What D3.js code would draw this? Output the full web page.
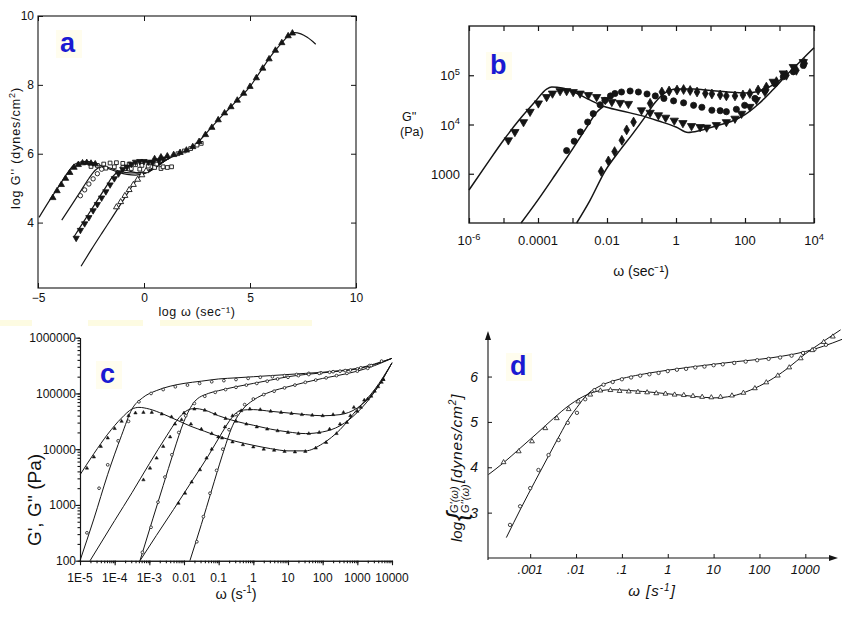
<!DOCTYPE html>
<html>
<head>
<meta charset="utf-8">
<script src="https://cdn.jsdelivr.net/npm/d3@7/dist/d3.min.js"></script>
<style>
  html,body{margin:0;padding:0;background:#fff;}
  svg{display:block;}
  text{font-family:"Liberation Sans",Arial,sans-serif;fill:#111;}
</style>
</head>
<body>
<svg id="fig" width="844" height="626"></svg>
<script>
// ================= DATA =================
// ---- Panel a: log(omega) vs log(G'') ----
const aTicksX = [-5, 0, 5, 10];
const aTicksY = [4, 6, 8, 10];
const aLine1 = [[-4.95,4.15],[-4.5,4.6],[-4,5.07],[-3.6,5.45],[-3.3,5.68],[-3,5.76],[-2.7,5.78],[-2.4,5.74],[-2.0,5.65],[-1.6,5.55],[-1.2,5.46],[-0.8,5.4],[-0.4,5.38],[0,5.42],[0.4,5.55],[0.8,5.72],[1.2,5.87],[1.6,5.98],[2.0,6.1],[2.4,6.25],[2.8,6.5],[3.2,6.78],[3.6,7.05],[4.0,7.3],[4.5,7.62],[5.0,7.95],[5.5,8.4],[6.0,8.85],[6.5,9.22],[6.8,9.42],[7.1,9.52],[7.4,9.48],[7.7,9.38],[8.1,9.18]];
const aLine2 = [[-3.88,4.07],[-3.4,4.52],[-3,4.9],[-2.6,5.28],[-2.3,5.52],[-2.0,5.62],[-1.7,5.6],[-1.3,5.52],[-0.9,5.46],[-0.5,5.44],[-0.1,5.46],[0.3,5.55],[0.7,5.7],[1.0,5.82],[1.2,5.87]];
const aLine3 = [[-3.3,3.59],[-2.8,4.07],[-2.3,4.55],[-1.8,5.03],[-1.5,5.32],[-1.2,5.48],[-0.9,5.52],[-0.6,5.48],[-0.2,5.44],[0.2,5.48],[0.6,5.62],[1.0,5.8],[1.2,5.87]];
const aLine4 = [[-2.97,2.73],[-2.5,3.2],[-2,3.68],[-1.5,4.15],[-1,4.63],[-0.6,5.02],[-0.3,5.28],[0,5.42],[0.3,5.5],[0.6,5.62],[1.0,5.8],[1.2,5.87]];
const aTriUpLow = [[-4.3,4.72],[-4.1,4.92],[-3.9,5.1],[-3.7,5.28],[-3.5,5.45],[-3.3,5.6],[-3.1,5.68],[-2.9,5.73],[-2.7,5.74],[-2.5,5.72],[-2.3,5.7]];
const aTriUpMaster = [[0.5,5.85],[0.8,5.9],[1.1,5.93],[1.4,5.97],[1.7,6.03],[2.0,6.1],[2.3,6.2],[2.6,6.35],[2.9,6.55],[3.2,6.76],[3.5,6.98],[3.8,7.18],[4.1,7.36],[4.4,7.55],[4.7,7.75],[5.0,7.95],[5.3,8.2],[5.6,8.48],[5.9,8.75],[6.2,9.0],[6.5,9.22],[6.8,9.42],[7.0,9.5]];
const aCircOpen = [[-3.0,4.78],[-2.8,4.95],[-2.6,5.12],[-2.4,5.27],[-2.2,5.42],[-2.0,5.55]];
const aTriFilled3 = [[-3.2,3.55],[-3.0,3.78],[-2.8,3.97],[-2.6,4.15],[-2.4,4.35],[-2.2,4.53],[-2.0,4.72],[-1.8,4.9],[-1.6,5.1],[-1.4,5.28],[-1.2,5.42],[-1.0,5.55],[-0.8,5.62],[-0.6,5.7],[-0.4,5.76],[-0.2,5.78],[0.0,5.78],[0.2,5.76],[0.4,5.74],[0.7,5.8],[0.9,5.85]];
const aOpenTri4 = [[-1.3,4.45],[-1.1,4.6],[-0.9,4.78],[-0.7,4.95],[-0.5,5.1],[-0.3,5.25],[-0.1,5.38],[0.1,5.5]];
const aSquares = [[-2.5,5.63],[-2.2,5.66],[-1.9,5.7],[-1.6,5.73],[-1.3,5.74],[-1.0,5.72],[-0.7,5.7],[-0.4,5.68],[-0.1,5.66],[0.2,5.64],[0.5,5.6],[0.8,5.57],[1.1,5.6],[-1.8,5.58],[-1.4,5.62],[-1.0,5.6],[-0.6,5.57],[-0.2,5.55],[0.3,5.75],[0.6,5.7],[0.9,5.62],[1.3,5.62],[1.6,6.0],[1.9,6.08],[2.2,6.15],[2.5,6.25],[2.7,6.3]];

// ---- Panel b: omega vs G'' (values as log10) ----
const bTicksX = [-6,-5,-4,-3,-2,-1,0,1,2,3,4];
const bLabelX = [-6,-4,-2,0,2,4];
const bLabelXText = [["10","-6"],["0.0001",""],["0.01",""],["1",""],["100",""],["10","4"]];
const bTicksY = [3,4,5];
const bLabelYText = [["1000",""],["10","4"],["10","5"]];
const bLine1 = [[-6,2.67],[-5.5,3.18],[-5,3.68],[-4.5,4.13],[-4.1,4.45],[-3.75,4.72],[-3.6,4.76],[-3.3,4.74],[-2.9,4.64],[-2.5,4.5],[-2.1,4.37],[-1.6,4.28],[-1.0,4.18],[-0.5,4.07],[0,3.95],[0.35,3.84],[0.7,3.88],[1.2,3.98],[1.6,4.06],[2.0,4.2],[2.4,4.42],[2.8,4.7],[3.2,5.0],[3.6,5.28],[4,5.56]];
const bLine2 = [[-4.49,2.0],[-4,2.47],[-3.5,2.98],[-3,3.5],[-2.6,3.93],[-2.3,4.25],[-2.1,4.37]];
const bLine3 = [[-2.88,2.0],[-2.5,2.45],[-2.06,3.05],[-1.6,3.5],[-1.29,3.78],[-0.9,4.15],[-0.6,4.45],[-0.3,4.65],[0,4.72],[0.5,4.72],[1.0,4.69],[1.5,4.66],[2.0,4.64],[2.4,4.67],[2.8,4.8],[3.2,5.0]];
const bTriDown = [[-4.86,3.68],[-4.67,3.85],[-4.42,4.05],[-4.23,4.26],[-3.99,4.43],[-3.75,4.56],[-3.58,4.63],[-3.36,4.68],[-3.17,4.68],[-2.98,4.66],[-2.78,4.63],[-2.54,4.6],[-2.3,4.56],[-2.05,4.5],[-1.86,4.46],[-1.62,4.44],[-1.38,4.42],[-1.0,4.29],[-0.75,4.24],[-0.51,4.19],[-0.3,4.14],[-0.05,4.08],[0.2,4.03],[0.45,3.97],[0.7,3.95],[0.89,3.94],[1.17,3.99],[1.46,4.05],[1.71,4.12],[1.9,4.22],[2.14,4.36],[2.33,4.5],[2.58,4.66],[2.82,4.87],[3.11,5.04],[3.4,5.17],[3.69,5.27]];
const bCirc = [[-3.17,3.47],[-2.95,3.66],[-2.77,3.85],[-2.56,4.05],[-2.4,4.22],[-2.2,4.4],[-2.06,4.49],[-1.9,4.58],[-1.77,4.63],[-1.58,4.66],[-1.33,4.68],[-1.09,4.66],[-0.84,4.62],[-0.6,4.58],[-0.35,4.53],[-0.07,4.48],[0.22,4.44],[0.51,4.39],[0.75,4.35],[1.04,4.29],[1.28,4.28],[1.46,4.26],[1.75,4.31],[1.99,4.39],[2.29,4.53],[2.58,4.69],[2.87,4.83],[3.11,4.97],[3.4,5.07],[3.69,5.2]];
const bDiam = [[-2.17,3.05],[-1.96,3.26],[-1.78,3.45],[-1.57,3.68],[-1.43,3.89],[-1.23,4.05],[-0.75,4.43],[-0.41,4.66],[-0.2,4.68],[0.03,4.7],[0.22,4.71],[0.41,4.69],[0.61,4.66],[0.85,4.63],[1.04,4.62],[1.28,4.6],[1.46,4.58],[1.71,4.58],[1.94,4.6],[2.14,4.63],[2.38,4.7],[2.62,4.76],[2.91,4.87],[3.2,5.0],[3.49,5.1],[3.73,5.24]];

// ---- Panel c: omega vs G', G'' (values as log10) ----
const cTicksX = [-5,-4,-3,-2,-1,0,1,2,3,4];
const cLabelXText = ["1E-5","1E-4","1E-3","0.01","0.1","1","10","100","1000","10000"];
const cTicksY = [2,3,4,5,6];
const cLabelYText = ["100","1000","10000","100000","1000000"];
const cGp1 = [[-5,2.0],[-4.6,2.75],[-4.2,3.55],[-3.8,4.25],[-3.5,4.72],[-3.2,4.92],[-2.8,5.05],[-2.4,5.13],[-2,5.18],[-1.5,5.22],[-1,5.26],[-0.5,5.28],[0,5.3],[0.5,5.32],[1,5.34],[1.5,5.36],[2,5.38],[2.5,5.41],[3,5.45],[3.5,5.53],[4,5.63]];
const cGpp1 = [[-5,3.54],[-4.6,3.92],[-4.2,4.27],[-3.8,4.56],[-3.5,4.72],[-3.3,4.75],[-3.0,4.72],[-2.6,4.63],[-2.2,4.52],[-1.8,4.41],[-1.4,4.32],[-1,4.23],[-0.5,4.14],[0,4.07],[0.5,4.01],[1,3.97],[1.5,3.97],[2,4.1],[2.5,4.35],[3,4.72],[3.5,5.07],[4,5.55]];
const cGp2 = [[-3.27,2.0],[-2.9,2.75],[-2.6,3.35],[-2.3,3.95],[-2,4.5],[-1.7,4.85],[-1.3,5.0],[-1,5.05],[-0.5,5.12],[0,5.18],[0.5,5.24],[1,5.3],[1.5,5.34],[2,5.37],[2.5,5.4],[3,5.44],[3.5,5.52],[4,5.63]];
const cGpp2 = [[-4.71,2.0],[-4,2.72],[-3.5,3.22],[-3,3.74],[-2.5,4.24],[-2.2,4.52],[-1.95,4.68],[-1.7,4.73],[-1.4,4.7],[-1,4.6],[-0.5,4.5],[0,4.43],[0.5,4.36],[1,4.31],[1.5,4.28],[2,4.31],[2.5,4.42],[3,4.66],[3.5,5.03],[4,5.55]];
const cGp3 = [[-1.83,2.0],[-1.5,2.65],[-1.2,3.27],[-0.9,3.88],[-0.6,4.42],[-0.3,4.72],[0,4.88],[0.5,5.03],[1,5.12],[1.5,5.2],[2,5.27],[2.5,5.33],[3,5.4],[3.5,5.5],[4,5.63]];
const cGpp3 = [[-3.27,2.0],[-2.8,2.45],[-2.3,2.92],[-1.8,3.4],[-1.3,3.88],[-0.9,4.3],[-0.6,4.58],[-0.35,4.7],[0,4.71],[0.5,4.68],[1,4.65],[1.5,4.62],[2,4.6],[2.5,4.62],[3,4.74],[3.5,5.04],[4,5.55]];
const cMkGp1 = [[-4.8,2.5],[-4.45,3.3],[-4.2,3.72],[-3.9,4.15],[-3.6,4.5],[-3.3,4.85],[-2.95,5.0],[-2.6,5.07],[-2.25,5.12],[-1.9,5.15],[-1.55,5.18],[-1.2,5.21],[-0.85,5.23],[-0.5,5.25],[-0.15,5.27],[0.2,5.29],[0.55,5.3],[0.9,5.32],[1.25,5.34],[1.6,5.36],[1.95,5.37],[2.3,5.39],[2.65,5.41],[3.0,5.44],[3.35,5.5],[3.7,5.58]];
const cMkGpp1 = [[-4.8,3.66],[-4.6,3.86],[-4.4,4.05],[-4.2,4.2],[-4.0,4.37],[-3.8,4.5],[-3.6,4.6],[-3.4,4.65],[-3.17,4.66],[-2.93,4.66],[-2.64,4.63],[-2.36,4.58],[-2.07,4.53],[-1.8,4.45],[-1.5,4.36],[-1.2,4.28],[-0.9,4.2],[-0.6,4.13],[-0.3,4.08],[0,4.04],[0.3,4.0],[0.6,3.98],[0.9,3.96],[1.2,3.95],[1.5,3.96],[1.8,4.02],[2.1,4.12],[2.4,4.28],[2.7,4.48],[3.0,4.68],[3.3,4.9],[3.6,5.12],[3.75,5.25]];
const cMkGp2 = [[-3.2,2.15],[-2.95,2.6],[-2.75,3.05],[-2.55,3.5],[-2.35,3.9],[-2.15,4.3],[-1.95,4.6],[-1.7,4.82],[-1.4,4.95],[-1.1,5.02],[-0.8,5.07],[-0.5,5.11],[-0.2,5.15],[0.1,5.18],[0.4,5.22],[0.7,5.26],[1.0,5.29],[1.3,5.32],[1.6,5.34],[1.9,5.36],[2.2,5.38],[2.5,5.4],[2.8,5.42],[3.1,5.46],[3.4,5.5]];
const cMkGpp2 = [[-3.17,3.45],[-2.98,3.66],[-2.79,3.84],[-2.6,4.05],[-2.4,4.22],[-2.26,4.45],[-2.0,4.65],[-1.7,4.72],[-1.4,4.7],[-1.1,4.63],[-0.8,4.55],[-0.5,4.5],[-0.2,4.45],[0.1,4.4],[0.4,4.36],[0.7,4.33],[1.0,4.3],[1.3,4.28],[1.6,4.28],[1.9,4.3],[2.2,4.36],[2.5,4.45],[2.8,4.6],[3.1,4.75],[3.4,4.95],[3.7,5.2]];
const cMkGp3 = [[-1.63,2.34],[-1.44,2.79],[-1.25,3.21],[-1.06,3.62],[-0.88,4.0],[-0.7,4.35],[-0.5,4.62],[-0.25,4.8],[0,4.9],[0.3,4.98],[0.6,5.04],[0.9,5.1],[1.2,5.15],[1.5,5.2],[1.8,5.24],[2.1,5.28],[2.4,5.32],[2.7,5.36],[3.0,5.4],[3.3,5.45]];
const cMkGpp3 = [[-2.16,3.03],[-1.97,3.21],[-1.78,3.41],[-1.54,3.63],[-1.35,3.84],[-1.2,4.0],[-1.01,4.22],[-0.82,4.4],[-0.6,4.6],[-0.35,4.69],[-0.1,4.72],[0.2,4.71],[0.5,4.68],[0.8,4.66],[1.1,4.64],[1.4,4.62],[1.7,4.61],[2.0,4.6],[2.3,4.62],[2.6,4.66],[2.9,4.75],[3.2,4.88],[3.5,5.04],[3.75,5.25]];

// ---- Panel d: omega vs log G', log G'' ----
const dTicksX = [-3,-2,-1,0,1,2,3];
const dLabelXText = [".001",".01",".1","1","10","100","1000"];
const dTicksY = [3,4,5,6];
const dGp = [[-3.52,2.45],[-3.2,3.1],[-2.9,3.68],[-2.6,4.25],[-2.35,4.72],[-2.15,5.08],[-1.98,5.32],[-1.76,5.6],[-1.5,5.78],[-1.2,5.9],[-0.9,5.98],[-0.5,6.06],[0,6.14],[0.5,6.21],[1,6.27],[1.5,6.33],[2,6.38],[2.5,6.45],[3.0,6.55],[3.4,6.67],[3.8,6.82]];
const dGpp = [[-3.91,3.84],[-3.58,4.1],[-3.22,4.42],[-2.85,4.75],[-2.49,5.08],[-2.13,5.38],[-1.76,5.6],[-1.47,5.69],[-1.2,5.71],[-0.8,5.69],[-0.3,5.65],[0.2,5.6],[0.6,5.56],[1.0,5.53],[1.4,5.57],[1.8,5.7],[2.2,5.9],[2.6,6.17],[3.0,6.5],[3.4,6.78],[3.77,7.03]];
const dMkGp = [[-3.44,2.73],[-3.22,3.14],[-3.0,3.54],[-2.82,3.94],[-2.6,4.27],[-2.38,4.6],[-2.18,4.98],[-1.98,5.2],[-1.8,5.5],[-1.6,5.7],[-1.4,5.82],[-1.2,5.88],[-1.0,5.94],[-0.8,5.98],[-0.6,6.02],[-0.4,6.05],[-0.2,6.08],[0.0,6.12],[0.2,6.15],[0.4,6.17],[0.6,6.2],[0.8,6.22],[1.0,6.25],[1.2,6.27],[1.45,6.3],[1.7,6.33],[1.95,6.36],[2.2,6.39],[2.45,6.42],[2.7,6.46],[2.95,6.52],[3.2,6.6],[3.45,6.7]];
const dMkGpp = [[-3.58,4.11],[-3.25,4.35],[-2.96,4.57],[-2.67,4.86],[-2.42,5.08],[-2.16,5.28],[-1.95,5.45],[-1.69,5.6],[-1.47,5.69],[-1.25,5.7],[-1.05,5.68],[-0.85,5.67],[-0.65,5.66],[-0.45,5.65],[-0.25,5.63],[-0.05,5.62],[0.15,5.6],[0.35,5.59],[0.55,5.57],[0.75,5.55],[0.95,5.54],[1.15,5.55],[1.4,5.58],[1.65,5.64],[1.9,5.74],[2.15,5.87],[2.4,6.02],[2.65,6.2],[2.9,6.4],[3.15,6.58],[3.4,6.76],[3.6,6.88]];

const panelLetters = ["a","b","c","d"];

// ================= DRAWING =================
const fig = d3.select("#fig");
fig.append("rect").attr("width",844).attr("height",626).attr("fill","#fff");
const INK = "#151515";
const lin = v => v;
const pow10 = v => Math.pow(10, v);

// faint yellow strips (scan artefact)
[[0,32],[88,143],[160,312]].forEach(s => fig.append("rect").attr("x",s[0]).attr("y",320).attr("width",s[1]-s[0]).attr("height",6).attr("fill","#fdfbe2"));

function drawLine(g, data, xs, ys, xf, yf, w) {
  g.append("path").datum(data)
    .attr("fill","none").attr("stroke",INK).attr("stroke-width",w).attr("stroke-linejoin","round")
    .attr("d", d3.line().x(d => xs(xf(d[0]))).y(d => ys(yf(d[1]))).curve(d3.curveMonotoneX));
}
function drawMarks(g, data, xs, ys, xf, yf, type, size, filled, rot, sw) {
  g.append("g").selectAll("path").data(data).join("path")
    .attr("transform", d => `translate(${xs(xf(d[0]))},${ys(yf(d[1]))})` + (rot ? " rotate(180)" : ""))
    .attr("d", d3.symbol().type(type).size(size))
    .attr("fill", filled ? INK : "#fff").attr("stroke", INK).attr("stroke-width", sw || 0.8);
}
function supText(g, x, y, base, exp, size, anchor) {
  const t = g.append("text").attr("x",x).attr("y",y).attr("font-size",size).attr("text-anchor",anchor || "middle");
  t.append("tspan").text(base);
  if (exp) t.append("tspan").attr("dy",-size*0.42).attr("font-size",size*0.72).text(exp);
  return t;
}
function styleAxis(sel, w) {
  sel.selectAll("path.domain").attr("stroke",INK).attr("stroke-width",w || 1);
  sel.selectAll("line").attr("stroke",INK).attr("stroke-width",w || 1);
}
function letter(x, y, s) {
  fig.append("rect").attr("x",x-4).attr("y",y-22).attr("width",26).attr("height",28).attr("fill","#fffdee");
  fig.append("text").attr("x",x).attr("y",y).text(s)
    .attr("font-family","'Liberation Serif','Times New Roman',serif").attr("font-weight","bold")
    .attr("font-size",27).style("fill","#1a1ad2");
}

// ---------- Panel a ----------
{
  const x = d3.scaleLinear().domain([-5,10]).range([38,356]);
  const y = d3.scaleLinear().domain([2.1,10]).range([288,16]);
  const g = fig.append("g");
  g.append("rect").attr("x",38).attr("y",16).attr("width",318).attr("height",272)
    .attr("fill","none").attr("stroke",INK).attr("stroke-width",1.1);
  const fs = 12;
  const bx = g.append("g").attr("transform","translate(0,288)")
    .call(d3.axisBottom(x).tickValues(aTicksX).tickSize(-5).tickSizeOuter(0).tickPadding(5));
  bx.select(".domain").remove();
  bx.selectAll("text").attr("font-size",fs).attr("font-family","'Liberation Sans',Arial,sans-serif");
  styleAxis(bx);
  const tx = g.append("g").attr("transform","translate(0,16)")
    .call(d3.axisTop(x).tickValues(aTicksX).tickSize(-5).tickSizeOuter(0).tickFormat(""));
  tx.select(".domain").remove(); styleAxis(tx);
  const ly = g.append("g").attr("transform","translate(38,0)")
    .call(d3.axisLeft(y).tickValues(aTicksY).tickSize(-5).tickSizeOuter(0).tickPadding(4));
  ly.select(".domain").remove();
  ly.selectAll("text").attr("font-size",fs).attr("font-family","'Liberation Sans',Arial,sans-serif");
  styleAxis(ly);
  const ry = g.append("g").attr("transform","translate(356,0)")
    .call(d3.axisRight(y).tickValues(aTicksY).tickSize(-5).tickSizeOuter(0).tickFormat(""));
  ry.select(".domain").remove(); styleAxis(ry);

  g.append("text").attr("x",197).attr("y",316).attr("text-anchor","middle").attr("font-size",12.5)
    .attr("letter-spacing",0.6).text("log ω (sec⁻¹)");
  const yl = g.append("text").attr("transform","translate(20,148) rotate(-90)").attr("text-anchor","middle")
    .attr("font-size",12.5).attr("letter-spacing",0.9);
  yl.append("tspan").text("log G'' (dynes/cm");
  yl.append("tspan").attr("dy",-5).attr("font-size",9).text("2");
  yl.append("tspan").attr("dy",5).text(")");

  [aLine1, aLine2, aLine3, aLine4].forEach(l => drawLine(g, l, x, y, lin, lin, 1.2));
  drawMarks(g, aSquares, x, y, lin, lin, d3.symbolSquare, 14, false, false, 0.9);
  drawMarks(g, aTriUpLow, x, y, lin, lin, d3.symbolTriangle, 17, true, false);
  drawMarks(g, aTriUpMaster, x, y, lin, lin, d3.symbolTriangle, 17, true, false);
  drawMarks(g, aCircOpen, x, y, lin, lin, d3.symbolCircle, 15, false, false, 0.9);
  drawMarks(g, aTriFilled3, x, y, lin, lin, d3.symbolTriangle, 17, true, true);
  drawMarks(g, aOpenTri4, x, y, lin, lin, d3.symbolTriangle, 15, false, false, 0.9);
  letter(60, 52, panelLetters[0]);
}

// ---------- Panel b ----------
{
  const x = d3.scaleLog().domain([1e-6,1e4]).range([469,814]);
  const y = d3.scaleLog().domain([100,1e6]).range([223,26]);
  const g = fig.append("g");
  g.append("rect").attr("x",469).attr("y",26).attr("width",345).attr("height",197)
    .attr("fill","none").attr("stroke",INK).attr("stroke-width",1.3);
  const xv = bTicksX.map(pow10), yv = bTicksY.map(pow10);
  const ax1 = g.append("g").attr("transform","translate(0,223)").call(d3.axisBottom(x).tickValues(xv).tickSize(-5).tickSizeOuter(0).tickFormat(""));
  const ax2 = g.append("g").attr("transform","translate(0,26)").call(d3.axisTop(x).tickValues(xv).tickSize(-5).tickSizeOuter(0).tickFormat(""));
  const ay1 = g.append("g").attr("transform","translate(469,0)").call(d3.axisLeft(y).tickValues(yv).tickSize(-5).tickSizeOuter(0).tickFormat(""));
  const ay2 = g.append("g").attr("transform","translate(814,0)").call(d3.axisRight(y).tickValues(yv).tickSize(-5).tickSizeOuter(0).tickFormat(""));
  [ax1,ax2,ay1,ay2].forEach(a => { a.select(".domain").remove(); styleAxis(a, 1.2); });
  bLabelX.forEach((v,i) => supText(g, x(pow10(v)), 245, bLabelXText[i][0], bLabelXText[i][1], 13, "middle"));
  bTicksY.forEach((v,i) => supText(g, 460, y(pow10(v)) + 5, bLabelYText[i][0], bLabelYText[i][1], 13, "end"));
  g.append("text").attr("x",641).attr("y",276).attr("text-anchor","middle").attr("font-size",14).text("ω (sec⁻¹)");
  g.append("text").attr("x",402).attr("y",121).attr("font-size",12.5).text("G''");
  g.append("text").attr("x",400).attr("y",136).attr("font-size",12.5).text("(Pa)");

  [bLine1, bLine2, bLine3].forEach(l => drawLine(g, l, x, y, pow10, pow10, 1.5));
  drawMarks(g, bTriDown, x, y, pow10, pow10, d3.symbolTriangle, 30, true, true);
  drawMarks(g, bCirc, x, y, pow10, pow10, d3.symbolCircle, 30, true, false);
  drawMarks(g, bDiam, x, y, pow10, pow10, d3.symbolDiamond, 28, true, false);
  letter(490, 74, panelLetters[1]);
}

// ---------- Panel c ----------
{
  const x = d3.scaleLog().domain([1e-5,1e4]).range([80,392]);
  const y = d3.scaleLog().domain([100,1e6]).range([560.7,337.7]);
  const g = fig.append("g");
  const minorX = x.ticks(), minorY = y.ticks();
  const mx = g.append("g").attr("transform","translate(0,560.7)").call(d3.axisBottom(x).tickValues(minorX).tickSize(2.5).tickSizeOuter(0).tickFormat(""));
  const Mx = g.append("g").attr("transform","translate(0,560.7)").call(d3.axisBottom(x).tickValues(cTicksX.map(pow10)).tickSize(4.5).tickSizeOuter(0).tickFormat(""));
  const my = g.append("g").attr("transform","translate(80,0)").call(d3.axisLeft(y).tickValues(minorY).tickSize(2.5).tickSizeOuter(0).tickFormat(""));
  const My = g.append("g").attr("transform","translate(80,0)").call(d3.axisLeft(y).tickValues(cTicksY.map(pow10)).tickSize(4.5).tickSizeOuter(0).tickFormat(""));
  [mx,Mx,my,My].forEach(a => styleAxis(a, 1.1));
  cTicksX.forEach((v,i) => g.append("text").attr("x",x(pow10(v))).attr("y",582).attr("text-anchor","middle")
    .attr("font-size",12).text(cLabelXText[i]));
  cTicksY.forEach((v,i) => g.append("text").attr("x",76).attr("y",y(pow10(v)) + 4.5).attr("text-anchor","end")
    .attr("font-size",12).text(cLabelYText[i]));
  const xt = g.append("text").attr("x",236).attr("y",599).attr("text-anchor","middle").attr("font-size",14.5);
  xt.append("tspan").text("ω (s");
  xt.append("tspan").attr("dy",-6).attr("font-size",10).text("-1");
  xt.append("tspan").attr("dy",6).text(")");
  g.append("text").attr("transform","translate(41,500) rotate(-90)").attr("text-anchor","middle")
    .attr("font-size",19).text("G', G'' (Pa)");

  [cGp1, cGpp1, cGp2, cGpp2, cGp3, cGpp3].forEach(l => drawLine(g, l, x, y, pow10, pow10, 1));
  [cMkGp1, cMkGp2, cMkGp3].forEach(m => drawMarks(g, m, x, y, pow10, pow10, d3.symbolCircle, 6, false, false, 0.8));
  [cMkGpp1, cMkGpp2, cMkGpp3].forEach(m => drawMarks(g, m, x, y, pow10, pow10, d3.symbolTriangle, 5, true, false, 0.5));
  letter(100, 383, panelLetters[2]);
}

// ---------- Panel d ----------
{
  const x = d3.scaleLog().domain([Math.pow(10,-3.92), Math.pow(10,3.8)]).range([488,842]);
  const y = d3.scaleLinear().domain([2.0,6.96]).range([558,333]);
  const g = fig.append("g");
  // axis lines with arrows
  g.append("line").attr("x1",488).attr("x2",833).attr("y1",558).attr("y2",558).attr("stroke",INK).attr("stroke-width",1.1);
  g.append("line").attr("x1",488).attr("x2",488).attr("y1",560).attr("y2",336).attr("stroke",INK).attr("stroke-width",1.1);
  g.append("path").attr("d","M838,558 L829,555 L829,561 Z").attr("fill",INK);
  g.append("path").attr("d","M488,331 L485,340 L491,340 Z").attr("fill",INK);
  const ax = g.append("g").attr("transform","translate(0,558)")
    .call(d3.axisTop(x).tickValues(dTicksX.map(pow10)).tickSize(4).tickSizeOuter(0).tickFormat(""));
  ax.select(".domain").remove(); styleAxis(ax, 1);
  const ay = g.append("g").attr("transform","translate(488,0)")
    .call(d3.axisRight(y).tickValues(dTicksY).tickSize(4).tickSizeOuter(0).tickFormat(""));
  ay.select(".domain").remove(); styleAxis(ay, 1);
  dTicksX.forEach((v,i) => g.append("text").attr("x",x(pow10(v))).attr("y",574).attr("text-anchor","middle")
    .attr("font-size",13).attr("font-style","italic").text(dLabelXText[i]));
  dTicksY.forEach(v => g.append("text").attr("x",478).attr("y",y(v) + 5).attr("text-anchor","end")
    .attr("font-size",14).attr("font-style","italic").text(v));
  const xt = g.append("text").attr("x",652).attr("y",596).attr("text-anchor","middle")
    .attr("font-size",15).attr("font-style","italic").attr("letter-spacing",1);
  xt.append("tspan").text("ω [s");
  xt.append("tspan").attr("dy",-5).attr("font-size",10).text("-1");
  xt.append("tspan").attr("dy",5).text("]");
  // y label: log { G'(ω) / G''(ω) } [dynes/cm²]
  const yl = g.append("g").attr("transform","translate(462,0) rotate(-90)");
  yl.append("text").attr("x",-542).attr("y",0).attr("font-size",15).attr("font-style","italic").text("log");
  yl.append("text").attr("x",-521).attr("y",4).attr("font-size",27).attr("font-style","italic").text("{");
  yl.append("text").attr("x",-513).attr("y",-4).attr("font-size",11).attr("font-style","italic").text("G'(ω)");
  yl.append("text").attr("x",-513).attr("y",7).attr("font-size",11).attr("font-style","italic").text("G''(ω)");
  const ul = yl.append("text").attr("x",-483).attr("y",0).attr("font-size",15.5).attr("font-style","italic").attr("letter-spacing",0.8);
  ul.append("tspan").text("[dynes/cm");
  ul.append("tspan").attr("dy",-6).attr("font-size",10).text("2");
  ul.append("tspan").attr("dy",6).text("]");

  drawLine(g, dGp, x, y, pow10, lin, 1);
  drawLine(g, dGpp, x, y, pow10, lin, 1);
  drawMarks(g, dMkGp, x, y, pow10, lin, d3.symbolCircle, 9, false, false, 0.8);
  drawMarks(g, dMkGpp, x, y, pow10, lin, d3.symbolTriangle, 10, false, false, 0.8);
  letter(510, 375, panelLetters[3]);
}
</script>
</body>
</html>
